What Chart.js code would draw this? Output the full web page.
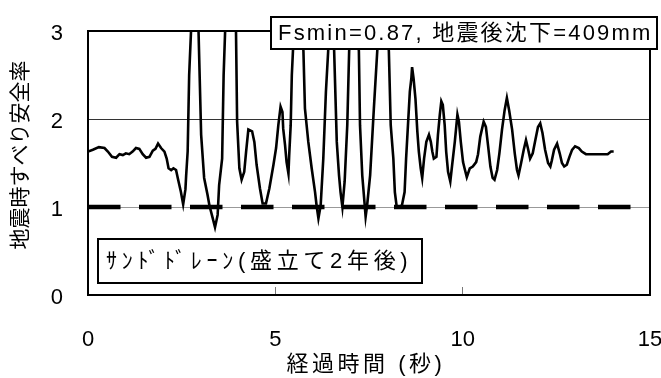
<!DOCTYPE html>
<html>
<head>
<meta charset="utf-8">
<script src="https://cdn.jsdelivr.net/npm/chart.js@4/dist/chart.umd.min.js"></script>
<style>
  html, body { margin: 0; padding: 0; background: #fff; }
  #wrap { width: 661px; height: 378px; }
</style>
</head>
<body>
<div id="wrap"><canvas id="c" width="661" height="378"></canvas></div>
<script>
// Elapsed time (s) and seismic sliding safety factor
const timeSec = [
  0.00, 0.13, 0.29, 0.44, 0.53, 0.64, 0.75, 0.84, 0.93, 1.01,
  1.10, 1.19, 1.28, 1.37, 1.46, 1.55, 1.64, 1.73, 1.80, 1.87,
  1.95, 2.04, 2.10, 2.15, 2.22, 2.28, 2.35, 2.40, 2.48, 2.54,
  2.60, 2.62, 2.66, 2.70, 2.75, 2.86, 2.95, 3.02, 3.10, 3.19,
  3.24, 3.33, 3.39, 3.46, 3.50, 3.58, 3.62, 3.66, 3.80, 3.95,
  3.98, 4.04, 4.10, 4.17, 4.22, 4.28, 4.38, 4.44, 4.50, 4.59,
  4.66, 4.75, 4.84, 4.95, 5.02, 5.08, 5.14, 5.19, 5.21, 5.26,
  5.30, 5.35, 5.37, 5.41, 5.44, 5.47, 5.61, 5.75, 5.79, 5.88,
  5.97, 6.06, 6.10, 6.15, 6.21, 6.28, 6.35, 6.41, 6.49, 6.57,
  6.64, 6.70, 6.74, 6.79, 6.85, 6.92, 6.97, 7.10, 7.23, 7.26,
  7.32, 7.37, 7.41, 7.45, 7.53, 7.63, 7.72, 7.87, 8.03, 8.08,
  8.15, 8.19, 8.24, 8.30, 8.38, 8.45, 8.49, 8.54, 8.59, 8.63,
  8.65, 8.69, 8.74, 8.79, 8.83, 8.88, 8.92, 8.97, 9.03, 9.10,
  9.15, 9.19, 9.23, 9.30, 9.34, 9.39, 9.43, 9.47, 9.52, 9.56,
  9.61, 9.67, 9.72, 9.79, 9.86, 9.90, 9.95, 10.01, 10.05, 10.11,
  10.19, 10.27, 10.36, 10.41, 10.47, 10.56, 10.62, 10.68, 10.74, 10.80,
  10.85, 10.92, 10.98, 11.05, 11.12, 11.18, 11.24, 11.32, 11.39, 11.45,
  11.49, 11.56, 11.63, 11.69, 11.74, 11.80, 11.87, 11.94, 12.01, 12.07,
  12.13, 12.20, 12.28, 12.34, 12.38, 12.44, 12.52, 12.59, 12.65, 12.71,
  12.78, 12.85, 12.92, 13.00, 13.10, 13.18, 13.29, 13.64, 13.87, 13.96,
  14.03
];
const safetyFactor = [
  1.63, 1.65, 1.68, 1.67, 1.63, 1.57, 1.56, 1.60, 1.59, 1.61,
  1.60, 1.63, 1.67, 1.66, 1.60, 1.56, 1.57, 1.64, 1.66, 1.72,
  1.67, 1.63, 1.55, 1.44, 1.42, 1.44, 1.42, 1.32, 1.17, 1.03,
  1.20, 1.36, 1.63, 2.50, 3.00, 4.00, 3.00, 1.82, 1.33, 1.14,
  1.02, 0.87, 0.77, 0.91, 1.25, 1.55, 2.50, 3.00, 4.00, 3.00,
  1.97, 1.44, 1.31, 1.40, 1.63, 1.88, 1.86, 1.74, 1.48, 1.21,
  1.04, 1.04, 1.21, 1.48, 1.67, 1.93, 2.14, 2.08, 1.89, 1.70,
  1.51, 1.38, 1.59, 1.93, 2.50, 2.77, 3.90, 2.77, 2.12, 1.74,
  1.44, 1.17, 1.02, 0.87, 1.02, 1.55, 2.31, 2.77, 3.60, 2.77,
  1.74, 1.36, 1.17, 1.00, 1.29, 1.93, 2.77, 3.80, 2.77, 1.93,
  1.36, 1.10, 0.89, 1.02, 1.36, 2.12, 2.77, 3.80, 2.77, 1.93,
  1.55, 1.17, 1.00, 1.00, 1.02, 1.17, 1.55, 1.93, 2.31, 2.46,
  2.59, 2.46, 2.23, 1.86, 1.63, 1.44, 1.33, 1.55, 1.74, 1.82,
  1.74, 1.63, 1.55, 1.57, 1.82, 2.05, 2.20, 2.16, 1.93, 1.63,
  1.40, 1.29, 1.48, 1.74, 2.05, 1.97, 1.74, 1.51, 1.44, 1.34,
  1.44, 1.46, 1.51, 1.60, 1.80, 1.97, 1.91, 1.69, 1.46, 1.33,
  1.31, 1.42, 1.61, 1.88, 2.10, 2.24, 2.10, 1.88, 1.61, 1.42,
  1.36, 1.50, 1.65, 1.76, 1.67, 1.55, 1.61, 1.76, 1.91, 1.95,
  1.84, 1.65, 1.50, 1.46, 1.53, 1.65, 1.72, 1.61, 1.50, 1.46,
  1.48, 1.57, 1.65, 1.69, 1.67, 1.63, 1.60, 1.60, 1.60, 1.63,
  1.63
];
const xTicks = [0, 5, 10, 15];
const yTicks = [0, 1, 2, 3];
const thresholdFs = 1;
const xTitle = '経過時間 (秒)';
const yTitle = '地震時すべり安全率';
const noteResult = 'Fsmin=0.87, 地震後沈下=409mm';
const noteCase = 'ｻﾝﾄﾞﾄﾞﾚｰﾝ(盛立て2年後)';

const FONT = '"Liberation Sans", "Noto Sans CJK JP", Arial, sans-serif';

// Drop the automatic label overhang so the layout padding alone fixes the plot area
function noOverhang(s) {
  s.paddingLeft = 0; s.paddingRight = 0; s.paddingTop = 0; s.paddingBottom = 0;
}

// Letter spacing / small offsets for axis titles and y tick labels
const textTweaks = {
  id: 'textTweaks',
  beforeDraw(chart) {
    const xs = chart.scales.x, ys = chart.scales.y;
    if (!xs._tweaked) {
      const t = xs.drawTitle;
      xs.drawTitle = function () {
        const c = this.ctx; c.save(); c.letterSpacing = '3.5px'; c.translate(-3, 0);
        t.apply(this, arguments); c.restore();
      };
      xs._tweaked = true;
    }
    if (!ys._tweaked) {
      const t = ys.drawTitle;
      ys.drawTitle = function () {
        const c = this.ctx; c.save(); c.translate(0, -8);
        t.apply(this, arguments); c.restore();
      };
      const l = ys.drawLabels;
      ys.drawLabels = function () {
        const c = this.ctx; c.save(); c.translate(0, 3);
        l.apply(this, arguments); c.restore();
      };
      ys._tweaked = true;
    }
  }
};

// Plot frame and the two boxed notes
const frameAndNotes = {
  id: 'frameAndNotes',
  afterDatasetsDraw(chart) {
    const { ctx, chartArea: a } = chart;
    ctx.save();
    ctx.strokeStyle = '#000';
    ctx.lineWidth = 2;
    ctx.strokeRect(a.left, a.top, a.right - a.left, a.bottom - a.top);

    function note(text, x, y, w, h, tx, spacing) {
      ctx.fillStyle = '#fff';
      ctx.fillRect(x, y, w, h);
      ctx.strokeStyle = '#000';
      ctx.lineWidth = 2;
      ctx.strokeRect(x, y, w, h);
      ctx.fillStyle = '#000';
      ctx.font = '22px ' + FONT;
      ctx.letterSpacing = spacing;
      ctx.textAlign = 'left';
      ctx.textBaseline = 'middle';
      ctx.fillText(text, tx, y + h / 2 + 1);
      ctx.letterSpacing = '0px';
    }
    note(noteResult, 271, 17, 386, 32, 278, '2.2px');
    note(noteCase, 98, 239, 324, 44, 106, '4.7px');
    ctx.restore();
  }
};

const ctx = document.getElementById('c').getContext('2d');
new Chart(ctx, {
  type: 'line',
  data: {
    datasets: [
      {
        data: timeSec.map((t, i) => ({ x: t, y: safetyFactor[i] })),
        borderColor: '#000',
        borderWidth: 2.6,
        pointRadius: 0,
        tension: 0,
        fill: false,
        clip: 0
      },
      {
        data: [
          { x: xTicks[0], y: thresholdFs },
          { x: xTicks[xTicks.length - 1], y: thresholdFs }
        ],
        borderColor: '#000',
        borderWidth: 4.4,
        borderDash: [32.5, 18.5],
        pointRadius: 0,
        fill: false,
        clip: 0
      }
    ]
  },
  options: {
    responsive: false,
    animation: false,
    events: [],
    layout: { padding: { left: 0, right: 11, top: 31, bottom: 0 } },
    plugins: { legend: { display: false }, tooltip: { enabled: false } },
    scales: {
      x: {
        type: 'linear',
        min: xTicks[0],
        max: xTicks[xTicks.length - 1],
        afterBuildTicks: s => { s.ticks = xTicks.map(v => ({ value: v })); },
        afterFit: s => { s.height = 83; noOverhang(s); },
        border: { display: false },
        grid: {
          drawOnChartArea: false,
          drawTicks: true,
          tickLength: -8,
          tickColor: '#777',
          tickWidth: 1
        },
        ticks: {
          color: '#000',
          padding: 40,
          maxRotation: 0,
          autoSkip: false,
          font: { family: FONT, size: 22 }
        },
        title: {
          display: true,
          text: xTitle,
          color: '#000',
          font: { family: FONT, size: 22 },
          padding: { top: 0, bottom: 0 }
        }
      },
      y: {
        type: 'linear',
        min: yTicks[0],
        max: yTicks[yTicks.length - 1],
        afterBuildTicks: s => { s.ticks = yTicks.map(v => ({ value: v })); },
        afterFit: s => { s.width = 88; noOverhang(s); },
        border: { display: false },
        grid: {
          drawTicks: false,
          lineWidth: 1,
          color: c => c.tick && c.tick.value === 2 ? '#333' : (c.tick && c.tick.value === 1 ? '#999' : 'rgba(0,0,0,0)')
        },
        ticks: {
          color: '#000',
          padding: 25,
          font: { family: FONT, size: 22 }
        },
        title: {
          display: true,
          text: yTitle,
          color: '#000',
          font: { family: FONT, size: 21 },
          padding: { top: 9, bottom: 0 }
        }
      }
    }
  },
  plugins: [textTweaks, frameAndNotes]
});
</script>
</body>
</html>
